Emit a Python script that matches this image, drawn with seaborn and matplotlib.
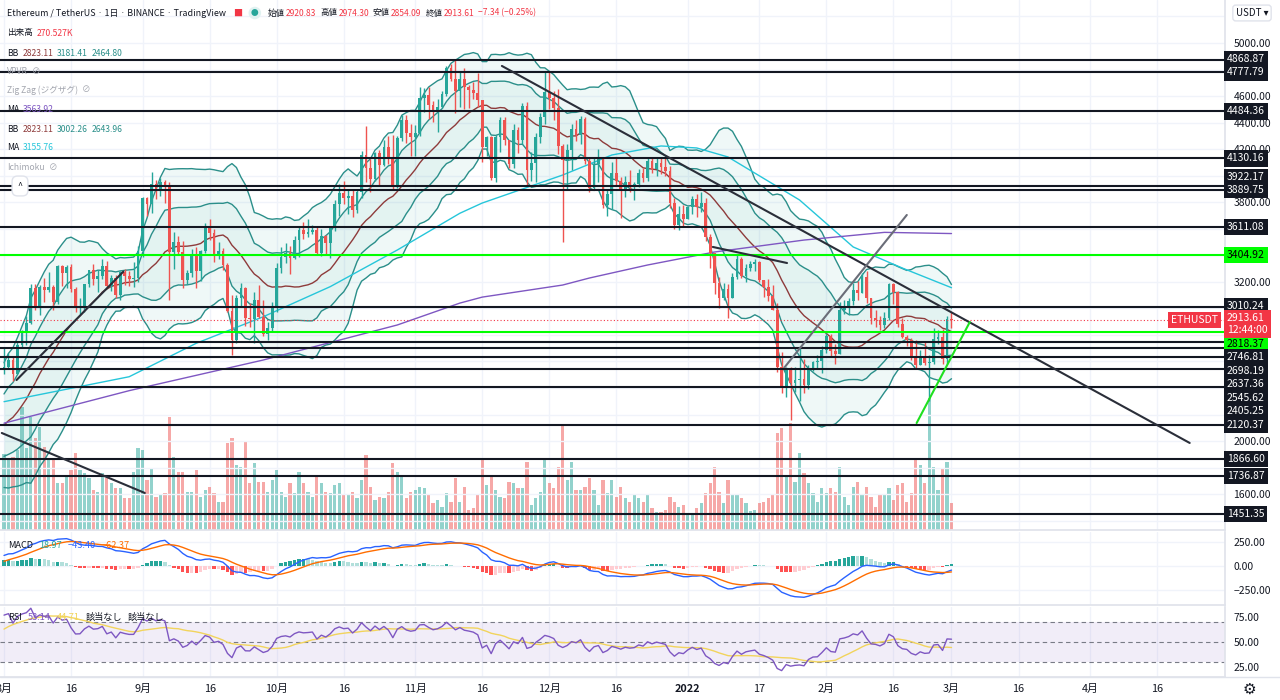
import numpy as np
import pandas as pd
import matplotlib
matplotlib.use("Agg")
import matplotlib.pyplot as plt
import matplotlib.transforms as mtransforms
import seaborn as sns

sns.set_theme(style="white")
plt.rcParams["font.family"] = ["Noto Sans CJK JP", "DejaVu Sans"]
plt.rcParams["axes.unicode_minus"] = True

# ETHUSDT daily, 2021-08-01 .. 2022-03-01 (day 0 = Aug 1)
# July 2021 closes, only used to warm up BB / MACD / RSI
jul_close = [2113, 2150, 2226, 2321, 2198, 2324, 2316, 2115, 2146, 2111,
             2140, 2032, 1940, 1995, 1916, 1880, 1898, 1895, 1820, 1787,
             1993, 2026, 2123, 2187, 2190, 2226, 2299, 2297, 2381, 2461, 2534]

close = [
    # Aug
    2557, 2608, 2506, 2725, 2827, 2890, 3157, 3012, 3163, 3141,
    3164, 3048, 3323, 3267, 3310, 3147, 3012, 3018, 3182, 3287,
    3225, 3243, 3322, 3172, 3227, 3100, 3272, 3244, 3225, 3226, 3433,
    # Sep
    3835, 3787, 3940, 3887, 3952, 3927, 3428, 3497, 3427, 3211,
    3268, 3409, 3285, 3429, 3613, 3567, 3398, 3433, 3330, 2977,
    2760, 3076, 3155, 2929, 2923, 3063, 2936, 2807, 2853, 3001,
    # Oct
    3308, 3391, 3418, 3382, 3517, 3588, 3563, 3575, 3593, 3417,
    3544, 3496, 3603, 3789, 3868, 3829, 3848, 3745, 3878, 4157,
    4058, 3972, 4169, 4084, 4219, 4132, 3925, 4287, 4419, 4324, 4288,
    # Nov
    4323, 4588, 4605, 4535, 4477, 4518, 4613, 4808, 4730, 4637,
    4727, 4667, 4648, 4625, 4569, 4216, 4290, 3986, 4291, 4418,
    4270, 4088, 4342, 4272, 4524, 4040, 4097, 4294, 4444, 4632,
    # Dec
    4586, 4512, 4226, 4120, 4197, 4354, 4307, 4428, 4110, 3908,
    4085, 4136, 3781, 3859, 4017, 3961, 3891, 3956, 3919, 3935,
    4019, 3979, 4110, 4047, 4097, 4064, 4034, 3793, 3627, 3711, 3677,
    # Jan
    3766, 3828, 3762, 3794, 3538, 3419, 3192, 3079, 3143, 3080,
    3239, 3371, 3246, 3308, 3331, 3349, 3211, 3164, 3094, 2991,
    2560, 2406, 2539, 2441, 2459, 2466, 2424, 2548, 2598, 2603, 2687,
    # Feb + Mar 1
    2792, 2679, 2660, 2990, 3016, 3058, 3140, 3116, 3240, 3079,
    2928, 2915, 2874, 2929, 3183, 3124, 2884, 2784, 2763, 2629,
    2572, 2640, 2590, 2598, 2771, 2782, 2620, 2920, 2913.61,
]

high = [
    2700, 2665, 2630, 2745, 2840, 2945, 3185, 3185, 3175, 3230,
    3275, 3180, 3330, 3330, 3330, 3335, 3160, 3080, 3185, 3290,
    3335, 3290, 3375, 3360, 3250, 3250, 3285, 3295, 3285, 3350, 3470,
    3840, 3840, 4025, 3970, 3985, 3970, 3950, 3575, 3545, 3510,
    3290, 3445, 3465, 3440, 3640, 3675, 3595, 3500, 3455, 3345,
    3100, 3100, 3190, 3160, 3040, 3125, 3175, 3060, 2900, 3050,
    3340, 3465, 3490, 3470, 3545, 3620, 3650, 3675, 3630, 3610,
    3600, 3550, 3620, 3815, 3935, 3960, 3890, 3900, 3900, 4185,
    4375, 4125, 4175, 4190, 4270, 4300, 4310, 4300, 4460, 4455, 4390,
    4385, 4665, 4660, 4670, 4560, 4575, 4640, 4825, 4845, 4870,
    4780, 4810, 4685, 4705, 4775, 4570, 4300, 4300, 4310, 4440,
    4440, 4270, 4390, 4370, 4550, 4555, 4180, 4320, 4470, 4780,
    4780, 4640, 4650, 4240, 4240, 4390, 4420, 4450, 4440, 4140,
    4130, 4200, 4140, 3900, 4100, 4130, 3990, 4000, 4040, 3955,
    4050, 4060, 4140, 4140, 4140, 4130, 4130, 4075, 3830, 3770, 3780,
    3775, 3850, 3860, 3880, 3830, 3560, 3420, 3240, 3195, 3185,
    3270, 3410, 3390, 3335, 3360, 3370, 3360, 3215, 3220, 3180,
    3040, 2670, 2560, 2560, 2560, 2720, 2620, 2575, 2605, 2650, 2720,
    2815, 2805, 2730, 3050, 3060, 3080, 3190, 3210, 3270, 3285,
    3080, 2990, 2945, 2970, 3190, 3195, 3130, 2925, 2800, 2780,
    2760, 2685, 2750, 2650, 2855, 2840, 2845, 2940, 2974.30,
]

low = [
    2505, 2550, 2450, 2505, 2700, 2725, 2880, 2990, 2950, 3050,
    3120, 2990, 3030, 3165, 3155, 3120, 2970, 2960, 2970, 3160,
    3175, 3120, 3220, 3150, 3130, 3080, 3060, 3175, 3170, 3160, 3200,
    3390, 3700, 3720, 3825, 3850, 3795, 3060, 3300, 3400, 3150,
    3185, 3235, 3150, 3210, 3420, 3515, 3350, 3370, 3290, 2970,
    2650, 2740, 3020, 2870, 2860, 2740, 2930, 2790, 2760, 2825,
    2975, 3265, 3345, 3260, 3375, 3390, 3520, 3540, 3560, 3410,
    3395, 3400, 3380, 3580, 3700, 3785, 3710, 3690, 3720, 3830,
    3950, 3875, 3960, 3920, 4070, 4090, 3900, 3910, 4260, 4250, 4145,
    4150, 4300, 4480, 4430, 4405, 4330, 4510, 4600, 4710, 4470,
    4520, 4500, 4510, 4580, 4520, 4100, 4150, 3970, 3950, 4180,
    4230, 4060, 4060, 4170, 4240, 3920, 3960, 3950, 4250, 4390,
    4500, 4420, 4165, 3500, 3900, 4040, 4260, 4240, 4090, 3880,
    3900, 3950, 3760, 3700, 3750, 3930, 3680, 3840, 3880, 3820,
    3915, 3950, 3960, 4020, 4000, 4010, 4000, 3760, 3600, 3590, 3620,
    3670, 3710, 3690, 3730, 3510, 3305, 3105, 3000, 3060, 2930,
    3080, 3220, 3230, 3200, 3280, 3280, 3200, 3085, 3055, 2990,
    2520, 2360, 2330, 2160, 2370, 2300, 2360, 2390, 2530, 2540, 2515,
    2665, 2640, 2580, 2660, 2960, 2950, 3025, 3060, 3115, 3040,
    2880, 2860, 2840, 2850, 2915, 3030, 2860, 2780, 2720, 2610,
    2540, 2570, 2570, 2300, 2580, 2730, 2580, 2580, 2854.09,
]

# volume in thousands of ETH
volume_k = [
    760, 700, 730, 800, 1230, 820, 1130, 920, 1030, 830,
    700, 700, 470, 470, 530, 600, 770, 600, 570, 520,
    400, 380, 570, 520, 470, 420, 420, 320, 320, 580,
    820, 800, 500, 620, 330, 350, 370, 1130, 730, 580,
    580, 380, 380, 600, 330, 400, 430, 370, 280, 280,
    870, 920, 650,
    630, 880, 470, 670, 480, 480, 380, 500, 600, 380,
    330, 470, 370, 580, 470, 380, 330, 550, 470, 380,
    370, 450, 470, 350, 350, 380, 320, 500, 750, 430,
    300, 330, 320, 380, 670, 580, 530, 320, 380, 400,
    430, 420, 350, 270, 300, 230, 370, 280, 520, 280,
    430, 200, 220,
    350, 700, 450, 550, 400, 330, 320, 480, 470, 420,
    420, 680, 250, 320, 380, 700, 470, 420, 630, 1050,
    500, 680, 400, 400, 430, 520, 400, 250, 500, 370,
    500, 330, 430, 320, 280, 350, 320, 280, 350, 220,
    180, 180, 200, 330, 280, 230, 250, 150, 150, 220,
    270, 370, 470, 630,
    380, 270, 500, 350, 350, 320, 270, 190, 200, 270,
    280, 320, 350, 970, 1020, 550, 1070, 480, 770, 570,
    470, 370, 280, 420, 370, 420, 380, 630, 330, 250,
    430, 480, 350, 430, 330, 230, 350, 350, 420, 300,
    450, 470, 280, 370, 720, 650, 470, 1320, 630, 400,
    620, 680, 270,
]
last_open = 2920.83

# moving averages (day, value)
ma75_day = [0, 28, 43, 58, 73, 88, 102, 107, 125, 136, 147, 155, 162, 178, 190, 201, 212]
ma75_val = [2297, 2485, 2737, 2937, 3164, 3440, 3717, 3794, 4005, 4156, 4224, 4209, 4141,
            3817, 3463, 3304, 3156]
ma200_day = [0, 28, 58, 88, 102, 107, 125, 131, 144, 159, 179, 197, 212]
ma200_val = [2135, 2380, 2611, 2875, 3040, 3085, 3176, 3229, 3327, 3425, 3515, 3573, 3564]

black_levels = [4868.87, 4777.79, 4484.36, 4130.16, 3922.17, 3889.75, 3611.08, 3010.24,
                2746.81, 2698.19, 2637.36, 2545.62, 2405.25, 2120.37, 1866.60, 1736.87, 1451.35]
green_levels = [3404.92, 2818.37]
last_price = 2913.61

# hand drawn trend lines: start day, start price, end day, end price, colour
trend_lines = [
    (111.4, 4827, 265.3, 1986, "#2a2e39"),
    (2.8, 2460, 26.7, 3277, "#2a2e39"),
    (-0.5, 2061, 31.5, 1609, "#2a2e39"),
    (158.6, 3463, 175.2, 3342, "#2a2e39"),
    (174.7, 2558, 202.0, 3704, "#6a6d78"),
    (204.2, 2136, 216.1, 2897, "#1fe01f"),
]

price_ticks = [1600, 2000, 3200, 3800, 4200, 4400, 4600, 5000]
tick_dates = ["2021-08-01", "2021-08-16", "2021-09-01", "2021-09-16", "2021-10-01",
              "2021-10-16", "2021-11-01", "2021-11-16", "2021-12-01", "2021-12-16",
              "2022-01-01", "2022-01-17", "2022-02-01", "2022-02-16", "2022-03-01",
              "2022-03-16", "2022-04-01", "2022-04-16"]

assert len(close) == len(high) == len(low) == len(volume_k) == 213

# ---------------- indicators ----------------
n0 = len(jul_close)
s = pd.Series(jul_close + close, dtype=float)
basis = s.rolling(20).mean()
sd = s.rolling(20).std(ddof=0)
ema12 = s.ewm(span=12, adjust=False).mean()
ema26 = s.ewm(span=26, adjust=False).mean()
macd = ema12 - ema26
signal = macd.ewm(span=9, adjust=False).mean()
hist = macd - signal
delta = s.diff()
gain = delta.clip(lower=0).ewm(alpha=1 / 14, adjust=False).mean()
loss = (-delta.clip(upper=0)).ewm(alpha=1 / 14, adjust=False).mean()
rsi = 100 - 100 / (1 + gain / loss)
rsi_ma = rsi.rolling(14).mean()

hist_prev = hist.shift(1)
hist_col = np.where(hist >= 0,
                    np.where(hist >= hist_prev, "#26a69a", "#b2dfdb"),
                    np.where(hist < hist_prev, "#ff5252", "#ffcdd2"))

basis, sd = basis.values[n0:], sd.values[n0:]
macd, signal, hist = macd.values[n0:], signal.values[n0:], hist.values[n0:]
hist_col = hist_col[n0:]
rsi, rsi_ma = rsi.values[n0:], rsi_ma.values[n0:]

days = np.arange(len(close))
c = np.array(close, dtype=float)
o = np.array([jul_close[-1]] + close[:-1], dtype=float)
o[-1] = last_open
up = c >= o
candle_col = np.where(up, "#26a69a", "#ef5350")

start = pd.Timestamp("2021-08-01")
tick_ts = pd.to_datetime(tick_dates)
tick_days = [(t - start).days for t in tick_ts]
tick_labels = []
for t in tick_ts:
    if t.month == 1 and t.day == 1:
        tick_labels.append(str(t.year))
    elif t.day == 1:
        tick_labels.append(f"{t.month}月")
    else:
        tick_labels.append(str(t.day))

# ---------------- layout ----------------
W, H = 1280, 700
fig = plt.figure(figsize=(W / 100, H / 100), dpi=100)
fig.patch.set_facecolor("white")
pw = 1225 / W
grid_c = "#f0f3fa"
sep_c = "#e0e3eb"
txt_c = "#131722"
xlim = (-0.9, 273.2)

ax_vol = fig.add_axes([0, 1 - 530 / H, pw, 530 / H])
ax = fig.add_axes([0, 1 - 530 / H, pw, 530 / H])
ax_macd = fig.add_axes([0, 1 - 605 / H, pw, 73 / H])
ax_rsi = fig.add_axes([0, 1 - 677 / H, pw, 70 / H])

for a in (ax_vol, ax, ax_macd, ax_rsi):
    a.set_xlim(*xlim)
    for sp in a.spines.values():
        sp.set_visible(False)
ax.set_facecolor("none")
ax_vol.set_axis_off()
for a in (ax, ax_macd, ax_rsi):
    a.spines["right"].set_visible(True)
    a.spines["right"].set_color(sep_c)
    a.spines["bottom"].set_visible(True)
    a.spines["bottom"].set_color(sep_c)
    a.yaxis.tick_right()
    a.tick_params(axis="y", length=0, labelsize=7.5, colors=txt_c, pad=6)
    a.set_xticks(tick_days)
    a.tick_params(axis="x", length=0)
for a in (ax, ax_macd):
    a.tick_params(axis="x", labelbottom=False)

# vertical grid
for a in (ax_vol, ax_macd, ax_rsi):
    for d in tick_days:
        a.axvline(d, color=grid_c, lw=1, zorder=0)

# ---------------- volume ----------------
ax_vol.set_ylim(0, 5300)
vol_col = np.where(up, "#26a69a", "#ef5350")
ax_vol.bar(days, volume_k, width=0.72, color=vol_col, alpha=0.5, linewidth=0)

# ---------------- price panel ----------------
ax.set_ylim(1330, 5324)
for p in range(1400, 5201, 200):
    ax.axhline(p, color=grid_c, lw=1, zorder=0.5)

band_c = "#2b8f8a"
ax.fill_between(days, basis - 2 * sd, basis + 2 * sd, color="#26a69a", alpha=0.07, lw=0, zorder=1)
ax.fill_between(days, basis - sd, basis + sd, color="#26a69a", alpha=0.06, lw=0, zorder=1)
for band in (basis + 2 * sd, basis - 2 * sd, basis + sd, basis - sd):
    sns.lineplot(x=days, y=band, ax=ax, color=band_c, linewidth=1, legend=False, zorder=2)
sns.lineplot(x=days, y=basis, ax=ax, color="#8e3b3b", linewidth=1, legend=False, zorder=2)
sns.lineplot(x=ma75_day, y=ma75_val, ax=ax, color="#26c6da", linewidth=1, legend=False, zorder=2)
sns.lineplot(x=ma200_day, y=ma200_val, ax=ax, color="#7e57c2", linewidth=1, legend=False, zorder=2)

ax.vlines(days, low, high, color=candle_col, lw=1, zorder=3)
body = np.maximum(np.abs(c - o), 5)
ax.bar(days, body, bottom=np.minimum(c, o), width=0.62, color=candle_col, linewidth=0, zorder=3)

for lvl in black_levels:
    ax.axhline(lvl, color=txt_c, lw=1.5, zorder=4)
for lvl in green_levels:
    ax.axhline(lvl, color="#00ff00", lw=1.5, zorder=4)
ax.axhline(last_price, color="#f23645", lw=0.8, ls=(0, (1, 2)), zorder=4)

for d0, p0, d1, p1, col in trend_lines:
    ax.plot([d0, d1], [p0, p1], color=col, lw=1.5, zorder=5, solid_capstyle="round")

ax.set_yticks(price_ticks)
ax.set_yticklabels([f"{p:.2f}" for p in price_ticks])

# right-hand level labels, pushed apart like the platform does
ax_h_px = 530
upx = (5324 - 1330) / ax_h_px
gap = 13.5 * upx
upper = sorted([v for v in black_levels + green_levels if v > last_price])
lower = sorted([v for v in black_levels + green_levels if v < last_price], reverse=True)
label_pos = {}
prev = last_price
for v in upper:
    prev = max(v, prev + gap)
    label_pos[v] = prev
prev = last_price + (gap - 24 * upx)
for v in lower:
    prev = min(v, prev - gap)
    label_pos[v] = prev

ytrans = mtransforms.blended_transform_factory(ax.transAxes, ax.transData)
for v, pos in label_pos.items():
    green = v in green_levels
    ax.text(1.0015, pos, f"{v:.2f}", transform=ytrans, ha="left", va="center",
            fontsize=7.5, color="#000000" if green else "white", clip_on=False, zorder=6,
            bbox=dict(boxstyle="square,pad=0.3", fc="#00ff00" if green else txt_c, ec="none"))
lp_trans = mtransforms.offset_copy(ytrans, fig=fig, y=7, units="dots")
ax.text(1.0015, last_price, "2913.61\n12:44:00", transform=lp_trans, ha="left", va="top",
        fontsize=7.5, color="white", clip_on=False, zorder=7, linespacing=1.3,
        bbox=dict(boxstyle="square,pad=0.3", fc="#f23645", ec="none"))
ax.text(0.9945, last_price, "ETHUSDT", transform=ytrans, ha="right", va="center",
        fontsize=7.5, color="white", zorder=7,
        bbox=dict(boxstyle="square,pad=0.3", fc="#f23645", ec="none"))

# ---------------- MACD ----------------
ax_macd.set_ylim(-403, 351)
for v in (-250, 0, 250):
    ax_macd.axhline(v, color=grid_c, lw=1, zorder=0)
ax_macd.bar(days, hist, width=0.75, color=hist_col, linewidth=0, zorder=2)
sns.lineplot(x=days, y=macd, ax=ax_macd, color="#2962ff", linewidth=1, legend=False, zorder=3)
sns.lineplot(x=days, y=signal, ax=ax_macd, color="#ff6d00", linewidth=1, legend=False, zorder=3)
ax_macd.set_yticks([-250, 0, 250])
ax_macd.set_yticklabels(["\u2212250.00", "0.00", "250.00"])

# ---------------- RSI ----------------
ax_rsi.set_ylim(15.3, 85.3)
ax_rsi.axhspan(30, 70, color="#7e57c2", alpha=0.1, lw=0, zorder=1)
for v in (70, 50, 30):
    ax_rsi.axhline(v, color="#787b86", lw=0.8, ls=(0, (4, 3)), zorder=2)
sns.lineplot(x=days, y=rsi_ma, ax=ax_rsi, color="#f2d45c", linewidth=1, legend=False, zorder=3)
sns.lineplot(x=days, y=rsi, ax=ax_rsi, color="#7e57c2", linewidth=1, legend=False, zorder=3)
ax_rsi.set_yticks([25, 50, 75])
ax_rsi.set_yticklabels(["25.00", "50.00", "75.00"])
ax_rsi.set_xticklabels(tick_labels)
ax_rsi.tick_params(axis="x", labelsize=7.8, colors=txt_c, pad=5)
for lab in ax_rsi.get_xticklabels():
    if lab.get_text() == "2022":
        lab.set_fontweight("bold")

for a in (ax, ax_macd, ax_rsi):
    a.set_xlabel("")
    a.set_ylabel("")
fig.add_artist(plt.Line2D([0, 1], [1 - 677 / H, 1 - 677 / H], color=sep_c, lw=1))

# ---------------- legend texts ----------------
renderer = fig.canvas.get_renderer()


def legend_line(x_px, y_px, parts, size=6.2, space=4):
    x = x_px
    for text, colr in parts:
        t = fig.text(x / W, 1 - y_px / H, text, color=colr, fontsize=size, ha="left", va="center")
        x += t.get_window_extent(renderer).width + space
    return x


red = "#f23645"
teal = "#26a69a"
brown = "#8e3b3b"
gray = "#a3a6af"
xt = legend_line(7, 13, [("Ethereum / TetherUS · 1日 · BINANCE · TradingView", txt_c)], size=6.4)
fig.text((xt + 3) / W, 1 - 13 / H, "■", color=red, fontsize=6.5, ha="left", va="center")
fig.text((xt + 21) / W, 1 - 13 / H, "●", color=teal, fontsize=5.5, ha="left", va="center",
         bbox=dict(boxstyle="circle,pad=0.3", fc="#e0f2f1", ec="none"))
ohlc = [("始値", "2920.83"), ("高値", "2974.30"), ("安値", "2854.09"), ("終値", "2913.61")]
xo = xt + 38
for name, val in ohlc:
    xo = legend_line(xo, 13, [(name, txt_c), (val, red)], size=6.1, space=1) + 3
legend_line(xo, 13, [("\u22127.34 (\u22120.25%)", red)], size=6.1)
legend_line(7, 33, [("出来高", txt_c), ("270.527K", red)])
legend_line(7, 53, [("BB", txt_c), ("2823.11", brown), ("3181.41", band_c), ("2464.80", band_c)])
legend_line(7, 72, [("VPVR", gray), ("⊘", gray)])
legend_line(7, 90, [("Zig Zag (ジグザグ)", gray), ("⊘", gray)])
legend_line(7, 110, [("MA", txt_c), ("3563.92", "#7e57c2")])
legend_line(7, 129, [("BB", txt_c), ("2823.11", brown), ("3002.26", band_c), ("2643.96", band_c)])
legend_line(7, 148, [("MA", txt_c), ("3155.76", "#26c6da")])
legend_line(7, 167, [("Ichimoku", gray), ("⊘", gray)])
fig.text(20 / W, 1 - 186 / H, "^", color=txt_c, fontsize=6.5, ha="center", va="center",
         bbox=dict(boxstyle="round,pad=0.6", fc="white", ec=sep_c))

legend_line(8, 545, [("MACD", txt_c), ("18.97", teal), ("\u221243.40", "#2962ff"),
                     ("\u221262.37", "#ff6d00")], size=6.6, space=6)
legend_line(8, 617, [("RSI", txt_c), ("53.14", "#7e57c2"), ("44.71", "#f2d45c"),
                     ("該当なし", txt_c), ("該当なし", txt_c)], size=6.6, space=6)

fig.text(1252 / W, 1 - 13 / H, "USDT ▾", color=txt_c, fontsize=7, ha="center", va="center",
         bbox=dict(boxstyle="round,pad=0.3", fc="white", ec=sep_c))
fig.text(1249 / W, 1 - 689 / H, "⚙", color=txt_c, fontsize=11, ha="center", va="center",
         family="DejaVu Sans")

fig.savefig("out.png", dpi=100)
